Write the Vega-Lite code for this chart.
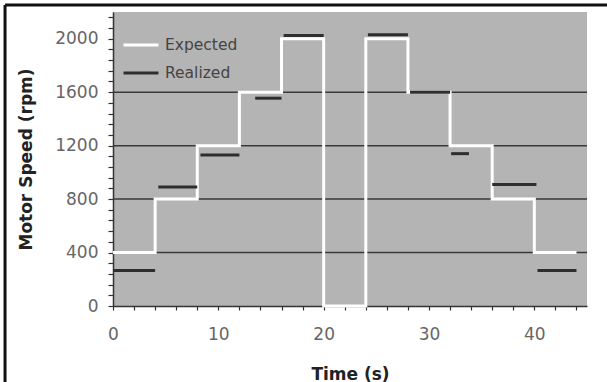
{
  "$schema": "https://vega.github.io/schema/vega-lite/v6.json",
  "width": 474,
  "height": 294,
  "autosize": {"type": "none"},
  "padding": {"left": 113, "top": 12, "right": 20, "bottom": 76},
  "background": "white",
  "config": {
    "view": {"fill": "#b4b4b4", "stroke": null},
    "font": "DejaVu Sans",
    "axis": {"labelOverlap": false, "labelBound": false, "labelFlush": false}
  },
  "datasets": {
    "grid": [{"rpm": 400}, {"rpm": 800}, {"rpm": 1200}, {"rpm": 1600}],
    "expected": [
      {"t": 0, "rpm": 400, "series": "Expected"},
      {"t": 4, "rpm": 800, "series": "Expected"},
      {"t": 8, "rpm": 1200, "series": "Expected"},
      {"t": 12, "rpm": 1600, "series": "Expected"},
      {"t": 16, "rpm": 2000, "series": "Expected"},
      {"t": 20, "rpm": 0, "series": "Expected"},
      {"t": 24, "rpm": 2000, "series": "Expected"},
      {"t": 28, "rpm": 1600, "series": "Expected"},
      {"t": 32, "rpm": 1200, "series": "Expected"},
      {"t": 36, "rpm": 800, "series": "Expected"},
      {"t": 40, "rpm": 400, "series": "Expected"},
      {"t": 44, "rpm": 400, "series": "Expected"}
    ],
    "realized": [
      {"t": 0, "rpm": 265, "seg": 1, "series": "Realized"},
      {"t": 4, "rpm": 265, "seg": 1, "series": "Realized"},
      {"t": 4.3, "rpm": 890, "seg": 2, "series": "Realized"},
      {"t": 8, "rpm": 890, "seg": 2, "series": "Realized"},
      {"t": 8.3, "rpm": 1130, "seg": 3, "series": "Realized"},
      {"t": 12, "rpm": 1130, "seg": 3, "series": "Realized"},
      {"t": 13.5, "rpm": 1555, "seg": 4, "series": "Realized"},
      {"t": 16, "rpm": 1555, "seg": 4, "series": "Realized"},
      {"t": 16.2, "rpm": 2025, "seg": 5, "series": "Realized"},
      {"t": 20, "rpm": 2025, "seg": 5, "series": "Realized"},
      {"t": 24.2, "rpm": 2030, "seg": 6, "series": "Realized"},
      {"t": 28, "rpm": 2030, "seg": 6, "series": "Realized"},
      {"t": 28.2, "rpm": 1600, "seg": 7, "series": "Realized"},
      {"t": 32, "rpm": 1600, "seg": 7, "series": "Realized"},
      {"t": 32.1, "rpm": 1140, "seg": 8, "series": "Realized"},
      {"t": 33.8, "rpm": 1140, "seg": 8, "series": "Realized"},
      {"t": 36, "rpm": 910, "seg": 9, "series": "Realized"},
      {"t": 40.2, "rpm": 910, "seg": 9, "series": "Realized"},
      {"t": 40.3, "rpm": 265, "seg": 10, "series": "Realized"},
      {"t": 44, "rpm": 265, "seg": 10, "series": "Realized"}
    ]
  },
  "layer": [
    {
      "data": {"name": "grid"},
      "mark": {"type": "rule", "color": "#3a3a3a", "strokeWidth": 1.5},
      "encoding": {
        "y": {"field": "rpm", "type": "quantitative", "scale": {"domain": [0, 2200], "nice": false}}
      }
    },
    {
      "data": {"name": "expected"},
      "mark": {"type": "line", "interpolate": "step-after", "strokeWidth": 3},
      "encoding": {
        "x": {
          "field": "t", "type": "quantitative",
          "scale": {"domain": [0, 45], "nice": false},
          "axis": {
            "title": "Time (s)",
            "values": [0, 2, 4, 6, 8, 10, 12, 14, 16, 18, 20, 22, 24, 26, 28, 30, 32, 34, 36, 38, 40, 42, 44],
            "tickCount": 200,
            "format": "d",
            "labelExpr": "datum.value % 10 === 0 ? datum.label : ''",
            "labelOverlap": false,
            "grid": false,
            "tickSize": 4, "tickColor": "#333", "tickWidth": 1.2,
            "domainColor": "#333", "domainWidth": 1.5,
            "labelFontSize": 17, "labelColor": "#666", "labelPadding": 16,
            "titleFontSize": 17, "titleFontWeight": "bold", "titleColor": "#222", "titlePadding": 24
          }
        },
        "y": {
          "field": "rpm", "type": "quantitative",
          "scale": {"domain": [0, 2200], "nice": false},
          "axis": {
            "title": "Motor Speed (rpm)",
            "values": [0, 80, 160, 240, 320, 400, 480, 560, 640, 720, 800, 880, 960, 1040, 1120, 1200, 1280, 1360, 1440, 1520, 1600, 1680, 1760, 1840, 1920, 2000, 2080, 2160],
            "tickCount": 200,
            "labelExpr": "datum.value % 400 === 0 ? datum.label : ''",
            "labelOverlap": false,
            "format": "d",
            "grid": false,
            "tickSize": 5, "tickColor": "#333", "tickWidth": 1.2,
            "domainColor": "#333", "domainWidth": 1.5,
            "labelFontSize": 17, "labelColor": "#666", "labelPadding": 10,
            "titleFontSize": 17, "titleFontWeight": "bold", "titleColor": "#222", "titlePadding": 19
          }
        },
        "color": {
          "field": "series", "type": "nominal",
          "scale": {"domain": ["Expected", "Realized"], "range": ["#ffffff", "#2e2e2e"]},
          "legend": {
            "title": null, "orient": "none", "legendX": 9, "legendY": 14,
            "symbolType": "stroke", "symbolSize": 1225, "symbolStrokeWidth": 3,
            "labelFontSize": 15.5, "labelColor": "#444", "labelOffset": 5,
            "rowPadding": -7, "padding": 0
          }
        }
      }
    },
    {
      "data": {"name": "realized"},
      "mark": {"type": "line", "strokeWidth": 3},
      "encoding": {
        "x": {"field": "t", "type": "quantitative", "scale": {"domain": [0, 45], "nice": false}},
        "y": {"field": "rpm", "type": "quantitative", "scale": {"domain": [0, 2200], "nice": false}},
        "detail": {"field": "seg", "type": "nominal"},
        "color": {"field": "series", "type": "nominal"}
      }
    },
    {
      "data": {"values": [{}]},
      "mark": {"type": "rule", "color": "#111", "strokeWidth": 3, "clip": false},
      "encoding": {
        "x": {"datum": -10.25, "type": "quantitative"},
        "y": {"datum": -600, "type": "quantitative"},
        "y2": {"datum": 2252}
      }
    },
    {
      "data": {"values": [{}]},
      "mark": {"type": "rule", "color": "#111", "strokeWidth": 3, "clip": false},
      "encoding": {
        "x": {"datum": -10.25, "type": "quantitative"},
        "x2": {"datum": 60},
        "y": {"datum": 2252, "type": "quantitative"}
      }
    }
  ]
}
